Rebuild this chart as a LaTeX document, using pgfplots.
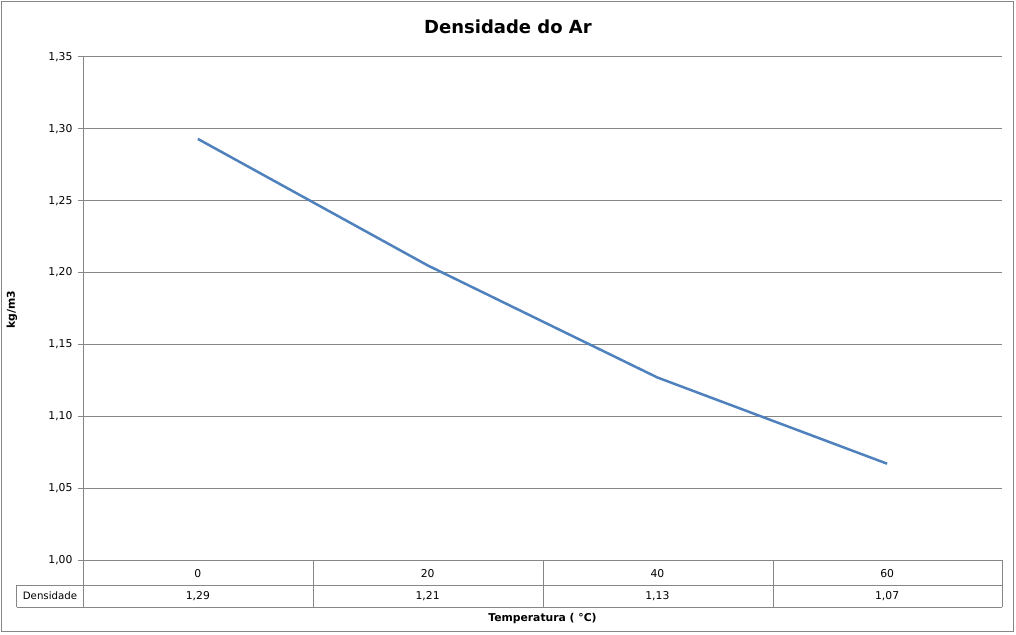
\documentclass[border=0pt]{standalone}
\usepackage{pgfplots}
\pgfplotsset{compat=1.18}
\usepackage{fontspec}
\setmainfont{DejaVu Sans}
\definecolor{linecol}{RGB}{79,129,189}
\definecolor{gridgray}{RGB}{134,134,134}
\begin{document}
\begin{tikzpicture}
\path[use as bounding box] (-83pt,-74pt) rectangle (933pt,560pt);
\draw[gridgray, line width=1pt] (-81.5pt,-71pt) rectangle (930.5pt,558.5pt);
\begin{axis}[
  at={(0pt,0pt)}, anchor=south west,
  scale only axis, width=919pt, height=503pt,
  xmin=-0.5, xmax=3.5, ymin=1, ymax=1.35,
  xtick={0,1,2,3}, xticklabels={0,20,40,60},
  ytick={1,1.05,1.1,1.15,1.2,1.25,1.3,1.35},
  axis x line*=bottom, axis y line*=left,
  axis line style={gridgray, line width=1pt},
  x tick style={draw=none},
  y tick style={gridgray, line width=1pt},
  tick align=outside, major tick length=5pt,
  ymajorgrids, grid style={gridgray, line width=1pt},
  /pgf/number format/assume math mode=true,
  yticklabel={\pgfmathprintnumber[fixed, fixed zerofill, precision=2, use comma]{\tick}},
  ticklabel style={font=\fontsize{10.8}{13}\selectfont},
  yticklabel style={anchor=east, xshift=-2pt},
  xticklabel style={anchor=center, yshift=-9pt},
  clip=false,
]
\addplot[linecol, line width=2.5pt] coordinates {(0,1.293) (1,1.205) (2,1.127) (3,1.067)};
\node[font=\fontsize{10.8}{13}\selectfont] at (axis cs:0,1) [yshift=-36pt] {1,29};
\node[font=\fontsize{10.8}{13}\selectfont] at (axis cs:1,1) [yshift=-36pt] {1,21};
\node[font=\fontsize{10.8}{13}\selectfont] at (axis cs:2,1) [yshift=-36pt] {1,13};
\node[font=\fontsize{10.8}{13}\selectfont] at (axis cs:3,1) [yshift=-36pt] {1,07};
\end{axis}
\begin{scope}[gridgray, line width=1pt]
\draw (0pt,0pt) -- (0pt,-47pt);
\draw (-66pt,-25pt) -- (919pt,-25pt);
\draw (-66pt,-47pt) -- (919pt,-47pt);
\draw (-66pt,-25pt) -- (-66pt,-47pt);
\draw (230pt,0pt) -- (230pt,-47pt);
\draw (460pt,0pt) -- (460pt,-47pt);
\draw (690pt,0pt) -- (690pt,-47pt);
\draw (919pt,0pt) -- (919pt,-47pt);
\end{scope}
\node[font=\fontsize{10.2}{12}\selectfont] at (-33pt,-36pt) {Densidade};
\node[font=\bfseries\fontsize{18}{22}\selectfont] at (425pt,533pt) {Densidade do Ar};
\node[font=\bfseries\fontsize{10.8}{13}\selectfont] at (459.5pt,-59pt) {Temperatura ( °C)};
\node[font=\bfseries\fontsize{10.8}{13}\selectfont, rotate=90] at (-71pt,250pt) {kg/m3};
\end{tikzpicture}
\end{document}
